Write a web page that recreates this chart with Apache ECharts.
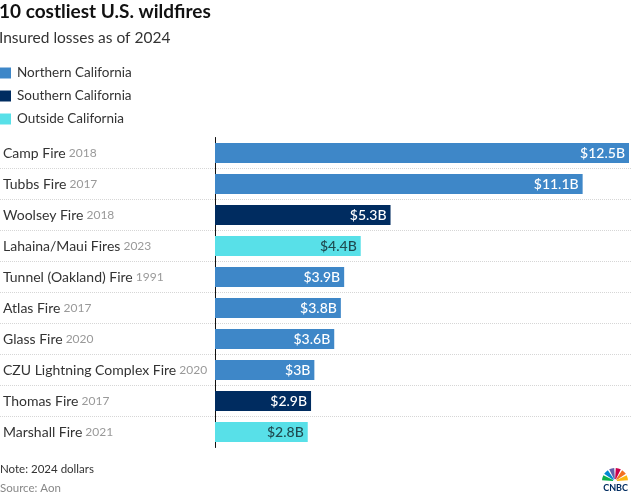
<!DOCTYPE html>
<html><head><meta charset="utf-8">
<script src="https://cdn.jsdelivr.net/npm/echarts@6/dist/echarts.min.js"></script>
<style>html,body{margin:0;padding:0;background:#fff}#c{width:631px;height:497px}</style>
</head><body><div id="c"></div>
<script>
var categories = ['Camp Fire','Tubbs Fire','Woolsey Fire','Lahaina/Maui Fires','Tunnel (Oakland) Fire','Atlas Fire','Glass Fire','CZU Lightning Complex Fire','Thomas Fire','Marshall Fire'];
var years = ['2018','2017','2018','2023','1991','2017','2020','2020','2017','2021'];
var values = [12.5, 11.1, 5.3, 4.4, 3.9, 3.8, 3.6, 3, 2.9, 2.8];
var regions = ['Northern California','Northern California','Southern California','Outside California','Northern California','Northern California','Northern California','Northern California','Southern California','Outside California'];
var regionNames = ['Northern California','Southern California','Outside California'];
var regionColors = ['#3e87c8','#002c60','#58e0e8'];
var labelColors = ['#ffffff','#ffffff','#1f4a50'];

var FONT = 'Lato, "Open Sans", sans-serif';
var chart = echarts.init(document.getElementById('c'));
var series = regionNames.map(function(r, i){
  return {
    name: r, type: 'bar', stack: 'all', barWidth: 20,
    xAxisIndex: 0, yAxisIndex: 0,
    itemStyle: {color: regionColors[i]},
    data: values.map(function(v, k){ return regions[k] === r ? v : '-'; }),
    label: {show: true, position: 'insideRight', distance: 4, color: labelColors[i],
      fontFamily: FONT, fontSize: 14, fontWeight: 500,
      formatter: function(p){ return '$' + p.value + 'B'; }}
  };
});
var sepColors = categories.map(function(){ return '#d6d6d6'; });
sepColors.unshift('rgba(0,0,0,0)'); sepColors[categories.length] = 'rgba(0,0,0,0)';

var peacock = ['#0db14b','#0089d0','#6460aa','#cc004c','#f37021','#fcb711'];
var logo = peacock.map(function(c, i){
  var a0 = Math.PI + i * Math.PI / 6, a1 = a0 + Math.PI / 6;
  return {type: 'sector', shape: {cx: 615, cy: 481, r: 13, r0: 2, startAngle: a0 + 0.06, endAngle: a1 - 0.06},
    style: {fill: c}};
});

chart.setOption({
  animation: false,
  title: {text: '10 costliest U.S. wildfires', subtext: 'Insured losses as of 2024', left: -1, top: 2,
    itemGap: 9, padding: 0,
    textStyle: {fontFamily: FONT, fontSize: 19, fontWeight: 'bold', color: '#111'},
    subtextStyle: {fontFamily: FONT, fontSize: 15.5, color: '#333'}},
  legend: {orient: 'vertical', left: 0, top: 66, padding: 0, itemWidth: 11, itemHeight: 11, itemGap: 9,
    icon: 'rect', data: regionNames, selectedMode: false,
    textStyle: {fontFamily: FONT, fontSize: 13.5, color: '#333', padding: [0,0,0,1]}},
  grid: [
    {left: 215, right: 2, top: 137.5, height: 310, containLabel: false},
    {left: 0, right: 0, top: 137.5, height: 310, containLabel: false}
  ],
  xAxis: [
    {type: 'value', gridIndex: 0, min: 0, max: 12.5, show: false},
    {type: 'value', gridIndex: 1, min: 0, max: 1, show: false}
  ],
  yAxis: [
    {type: 'category', gridIndex: 0, inverse: true, data: categories,
      axisLine: {show: true, lineStyle: {color: '#111', width: 1}}, axisTick: {show: false},
      axisLabel: {align: 'left', margin: 212, fontFamily: FONT,
        formatter: function(v, i){ return '{n|' + v + '} {y|' + years[i] + '}'; },
        rich: {n: {fontFamily: FONT, fontSize: 14, color: '#333'}, y: {fontFamily: FONT, fontSize: 12, color: '#999'}}}},
    {type: 'category', gridIndex: 1, inverse: true, data: categories,
      axisLine: {show: false}, axisTick: {show: false}, axisLabel: {show: false},
      splitLine: {show: true, lineStyle: {type: 'dotted', color: sepColors, width: 1}}}
  ],
  graphic: logo.concat([
    {type: 'text', left: 0, top: 463, style: {text: 'Note: 2024 dollars', font: '11.5px ' + FONT, fill: '#333'}},
    {type: 'text', left: 0, top: 482, style: {text: 'Source: Aon', font: '11.5px ' + FONT, fill: '#888'}},
    {type: 'text', right: 3, top: 484, style: {text: 'CNBC', font: 'bold 9px ' + FONT, fill: '#002c60'}}
  ]),
  series: series
});
</script></body></html>
